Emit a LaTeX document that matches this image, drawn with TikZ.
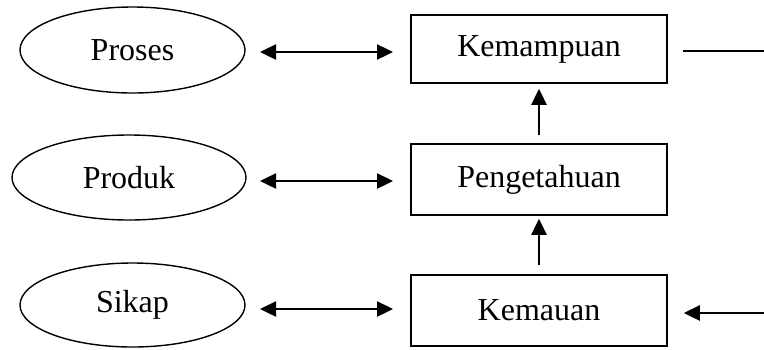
\documentclass[tikz,border=0pt]{standalone}
\usepackage{fontspec}
\setmainfont{Liberation Serif}
\usetikzlibrary{shapes.geometric,arrows.meta}
\begin{document}
\begin{tikzpicture}[x=1pt,y=-1pt,
  every node/.style={font=\fontsize{32}{38}\selectfont, inner sep=0pt},
  oval/.style={draw, ellipse, line width=1.4pt},
  boxnode/.style={draw, rectangle, line width=1.5pt, minimum width=256pt},
  tipA/.style={-{Triangle[length=16pt,width=15pt]}},
  conn/.style={line width=2.4pt},
  both/.style={{Triangle[length=16pt,width=15pt]}-{Triangle[length=16pt,width=15pt]}, line width=2.4pt}
]
\useasboundingbox (0,0) rectangle (764,349);
\node[oval, minimum width=225pt, minimum height=86pt] (proses) at (132.5,50) {Proses};
\node[oval, minimum width=234pt, minimum height=85pt] (produk) at (129,177.5) {Produk};
\node[oval, minimum width=225pt, minimum height=84pt] (sikap) at (132.5,305) {Sikap};
\node[boxnode, minimum height=68pt] (kemampuan) at (539,49) {Kemampuan};
\node[boxnode, minimum height=71pt] (pengetahuan) at (539,179.5) {Pengetahuan};
\node[boxnode, minimum height=71pt] (kemauan) at (539,310.5) {Kemauan};
\coordinate (out1) at (764,51);
\coordinate (in1) at (764,313);
\coordinate (a1) at (260,52);
\coordinate (a2) at (393,52);
\coordinate (b1) at (260,181);
\coordinate (b2) at (393,181);
\coordinate (c1) at (260,309);
\coordinate (c2) at (393,309);
\draw[both] (a1) -- (a2);
\draw[both] (b1) -- (b2);
\draw[both] (c1) -- (c2);
\draw[conn, tipA, shorten <=8pt, shorten >=5pt] (pengetahuan.north) -- (kemampuan.south);
\draw[conn, tipA, shorten <=9pt, shorten >=3pt] (kemauan.north) -- (pengetahuan.south);
\draw[line width=1.5pt] ([xshift=15pt]kemampuan.east |- out1) -- (out1);
\draw[conn, tipA, shorten >=16pt] (in1) -- (kemauan.east |- in1);
\end{tikzpicture}
\end{document}
